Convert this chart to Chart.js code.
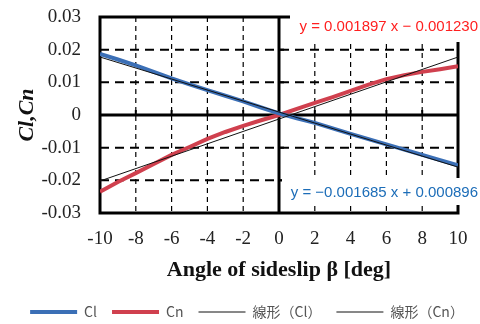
<!DOCTYPE html>
<html lang="ja">
<head>
    <meta charset="UTF-8">
    <title>Cl, Cn vs sideslip angle</title>
    <script src="https://cdn.jsdelivr.net/npm/chart.js"></script>
    <style>
        html, body { margin: 0; padding: 0; background: #fff; }
        .grafico-container { width: 480px; height: 324px; }
    </style>
</head>
<body>
    <div class="grafico-container">
        <canvas id="sideslipChart"></canvas>
    </div>

    <script>
        // dados
        const beta = [-10, -9, -8, -7, -6, -5, -4, -3, -2, -1, 0, 1, 2, 3, 4, 5, 6, 7, 8, 9, 10];
        const cl = [0.0187, 0.0170, 0.0152, 0.0132, 0.0112, 0.0094, 0.0076, 0.0059, 0.0042, 0.0023, 0.0005,
                    -0.0010, -0.0024, -0.0041, -0.0058, -0.0074, -0.0090, -0.0106, -0.0122, -0.0138, -0.0154];
        const cn = [-0.0235, -0.0205, -0.0178, -0.0150, -0.0122, -0.0098, -0.0073, -0.0052, -0.0033, -0.0016, 0.0000,
                    0.0019, 0.0037, 0.0055, 0.0074, 0.0093, 0.0110, 0.0122, 0.0132, 0.0140, 0.0149];

        // linhas de tendência (extremos)
        const trendX = [-10, 10];
        const trendCl = [0.01775, -0.01595];
        const trendCn = [-0.02020, 0.01774];

        const xTicks = [-10, -8, -6, -4, -2, 0, 2, 4, 6, 8, 10];
        const yTicks = [-0.03, -0.02, -0.01, 0, 0.01, 0.02, 0.03];
        const yTickLabels = ['-0.03', '-0.02', '-0.01', '0', '0.01', '0.02', '0.03'];

        const seriesNames = ['Cl', 'Cn', '線形（Cl）', '線形（Cn）'];
        const eqCl = 'y = −0.001685 x + 0.000896';
        const eqCn = 'y = 0.001897 x − 0.001230';

        function pontos(xs, ys) {
            return xs.map((v, i) => ({ x: v, y: ys[i] }));
        }

        // grade tracejada, eixos em zero e moldura
        const gradePlugin = {
            id: 'grade',
            beforeDraw(chart) {
                // desloca a legenda um pouco (direita / baixo)
                const lg = chart.legend;
                lg.left += 7; lg.right += 7;
                lg.top += 5; lg.bottom += 5;
            },
            beforeDatasetsDraw(chart) {
                const { ctx, chartArea: a, scales: { x, y } } = chart;
                const linha = (x1, y1, x2, y2) => {
                    ctx.beginPath(); ctx.moveTo(x1, y1); ctx.lineTo(x2, y2); ctx.stroke();
                };
                ctx.save();
                ctx.strokeStyle = '#000';

                ctx.lineWidth = 1.2;
                ctx.setLineDash([5, 4]);
                xTicks.forEach(v => {
                    if (v === 0 || v === xTicks[0] || v === xTicks[xTicks.length - 1]) return;
                    const px = x.getPixelForValue(v);
                    linha(px, a.top, px, a.bottom);
                });

                ctx.lineWidth = 2;
                ctx.setLineDash([9, 6]);
                yTicks.forEach(v => {
                    if (v === 0 || v === yTicks[0] || v === yTicks[yTicks.length - 1]) return;
                    const py = y.getPixelForValue(v);
                    linha(a.left, py, a.right, py);
                });

                ctx.setLineDash([]);
                ctx.lineWidth = 3;
                const x0 = x.getPixelForValue(0);
                const y0 = y.getPixelForValue(0);
                linha(a.left, y0, a.right, y0);
                linha(x0, a.top, x0, a.bottom);

                // pequenas marcas nos eixos
                ctx.lineWidth = 2;
                xTicks.forEach(v => {
                    const px = x.getPixelForValue(v);
                    linha(px, y0, px, y0 - 5);
                });
                yTicks.forEach(v => {
                    const py = y.getPixelForValue(v);
                    linha(x0, py, x0 + 5, py);
                });

                ctx.lineWidth = 3;
                ctx.strokeRect(a.left, a.top, a.right - a.left, a.bottom - a.top);
                ctx.restore();
            },
            afterDraw(chart) {
                const { ctx, chartArea: a } = chart;
                ctx.save();
                ctx.fillStyle = '#fff';
                ctx.fillRect(a.right - 168, a.top - 8, 200, 33);
                ctx.fillRect(a.right - 176, a.bottom - 35, 200, 27);
                ctx.font = '15px "Liberation Sans", Arial, sans-serif';
                ctx.textAlign = 'right';
                ctx.textBaseline = 'middle';
                ctx.fillStyle = '#ff1f1f';
                ctx.fillText(eqCn, 478, a.top + 10);
                ctx.fillStyle = '#1c6db8';
                ctx.fillText(eqCl, 478, a.bottom - 20);
                ctx.restore();
            }
        };

        function criarGrafico() {
            const ctx = document.getElementById('sideslipChart').getContext('2d');
            new Chart(ctx, {
                type: 'scatter',
                data: {
                    datasets: [
                        {
                            label: seriesNames[0],
                            data: pontos(beta, cl),
                            showLine: true,
                            borderColor: '#3b6fb6',
                            backgroundColor: '#3b6fb6',
                            borderWidth: 4,
                            pointRadius: 0,
                            order: 2
                        },
                        {
                            label: seriesNames[1],
                            data: pontos(beta, cn),
                            showLine: true,
                            borderColor: '#d0404e',
                            backgroundColor: '#d0404e',
                            borderWidth: 4,
                            pointRadius: 0,
                            order: 2
                        },
                        {
                            label: seriesNames[2],
                            data: pontos(trendX, trendCl),
                            showLine: true,
                            borderColor: '#111',
                            backgroundColor: '#111',
                            borderWidth: 1,
                            pointRadius: 0,
                            order: 1
                        },
                        {
                            label: seriesNames[3],
                            data: pontos(trendX, trendCn),
                            showLine: true,
                            borderColor: '#111',
                            backgroundColor: '#111',
                            borderWidth: 1,
                            pointRadius: 0,
                            order: 1
                        }
                    ]
                },
                options: {
                    responsive: true,
                    maintainAspectRatio: false,
                    animation: false,
                    layout: {
                        padding: { top: 17, right: 0, left: 0, bottom: 0 }
                    },
                    scales: {
                        x: {
                            type: 'linear',
                            min: -10,
                            max: 10,
                            afterBuildTicks: s => { s.ticks = xTicks.map(v => ({ value: v })); },
                            afterFit: s => { s.height = 72; },
                            grid: { display: false },
                            border: { display: false },
                            ticks: {
                                padding: 7,
                                color: '#222',
                                font: { family: '"Liberation Serif", "Times New Roman", serif', size: 19 }
                            },
                            title: {
                                display: true,
                                text: 'Angle of sideslip β [deg]',
                                color: '#111',
                                padding: { top: 0, bottom: 1 },
                                font: { family: '"Liberation Serif", "Times New Roman", serif', size: 22, weight: 'bold' }
                            }
                        },
                        y: {
                            type: 'linear',
                            min: -0.03,
                            max: 0.03,
                            afterBuildTicks: s => { s.ticks = yTicks.map(v => ({ value: v })); },
                            afterFit: s => { s.width = 100; s.paddingTop = 0; s.paddingBottom = 0; },
                            grid: { display: false },
                            border: { display: false },
                            ticks: {
                                padding: 11,
                                color: '#222',
                                callback: (v, i) => yTickLabels[i],
                                font: { family: '"Liberation Serif", "Times New Roman", serif', size: 19 }
                            },
                            title: {
                                display: true,
                                text: 'Cl,Cn',
                                color: '#111',
                                padding: { top: 14 },
                                font: { family: '"Liberation Serif", "Times New Roman", serif', size: 22, weight: 'bold', style: 'italic' }
                            }
                        },
                        // eixo vazio só para reservar a margem direita
                        margemDireita: {
                            type: 'linear',
                            position: 'right',
                            min: -0.03,
                            max: 0.03,
                            afterFit: s => { s.width = 22; s.paddingTop = 0; s.paddingBottom = 0; },
                            grid: { display: false },
                            border: { display: false },
                            ticks: { display: false },
                            title: { display: false }
                        }
                    },
                    plugins: {
                        tooltip: { enabled: false },
                        legend: {
                            position: 'bottom',
                            labels: {
                                usePointStyle: true,
                                pointStyleWidth: 47,
                                padding: 15,
                                color: '#555',
                                font: { family: '"Noto Sans CJK JP", "Noto Sans", sans-serif', size: 14 },
                                generateLabels: chart => chart.data.datasets.map((ds, i) => ({
                                    text: ds.label,
                                    pointStyle: 'line',
                                    strokeStyle: ds.borderColor,
                                    fillStyle: ds.borderColor,
                                    lineWidth: ds.borderWidth,
                                    fontColor: '#555',
                                    hidden: false,
                                    datasetIndex: i
                                }))
                            }
                        }
                    }
                },
                plugins: [gradePlugin]
            });
        }

        criarGrafico();
    </script>
</body>
</html>
